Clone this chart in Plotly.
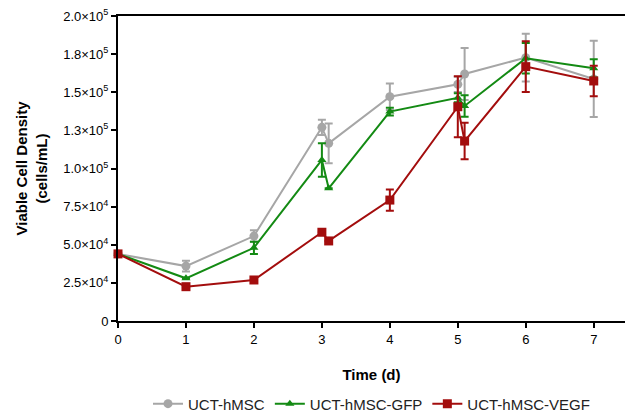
import plotly.graph_objects as go

days = [0, 1, 2, 3, 3.1, 4, 5, 5.1, 6, 7]

hmsc = [44000, 36000, 55700, 127000, 116500, 147100, 155200, 162000, 172700, 158700]
hmsc_err = [0, 3500, 3800, 5000, 13000, 8700, 5000, 17000, 15600, 25000]

gfp = [44000, 28000, 48000, 105600, 87000, 137300, 146400, 141000, 172300, 165700]
gfp_err = [0, 0, 4000, 11000, 0, 2500, 3000, 7000, 10000, 6000]

vegf = [44000, 22500, 26900, 58200, 52500, 79300, 140500, 118000, 166800, 157400]
vegf_err = [0, 0, 0, 0, 0, 7000, 20000, 12000, 16700, 10000]

ytick_vals = [0, 25000, 50000, 75000, 100000, 125000, 150000, 175000, 200000]
ytick_text = ["0", "2.5×10<sup>4</sup>", "5.0×10<sup>4</sup>", "7.5×10<sup>4</sup>",
              "1.0×10<sup>5</sup>", "1.3×10<sup>5</sup>", "1.5×10<sup>5</sup>",
              "1.8×10<sup>5</sup>", "2.0×10<sup>5</sup>"]

series = [
    ("UCT-hMSC", hmsc, hmsc_err, "#a6a6a6", "circle", 9),
    ("UCT-hMSC-GFP", gfp, gfp_err, "#138a13", "triangle-up", 8),
    ("UCT-hMSC-VEGF", vegf, vegf_err, "#a30d0d", "square", 9),
]

fig = go.Figure()
for name, vals, err, color, sym, size in series:
    fig.add_trace(go.Scatter(
        x=days, y=vals, name=name, mode="lines+markers",
        line=dict(color=color, width=2),
        marker=dict(color=color, symbol=sym, size=size),
        error_y=dict(type="data", array=err, visible=True, color=color,
                     thickness=2, width=4),
        cliponaxis=False,
    ))

fig.update_layout(
    width=625, height=413,
    margin=dict(l=118, r=0, t=16, b=92, autoexpand=False),
    paper_bgcolor="white", plot_bgcolor="white",
    font=dict(family="Arial, Liberation Sans, sans-serif", color="black"),
    showlegend=True,
    legend=dict(orientation="h", x=0.5, xanchor="center",
                yref="container", y=0.022, yanchor="middle",
                font=dict(size=15, color="#222"),
                itemwidth=30, tracegroupgap=0),
    xaxis=dict(range=[0, 7.46], tickvals=[0, 1, 2, 3, 4, 5, 6, 7],
               ticks="outside", ticklen=5, tickwidth=2, tickcolor="black",
               showline=True, linecolor="black", linewidth=2, mirror=True,
               showgrid=False, zeroline=False,
               tickfont=dict(size=13),
               title=dict(text="<b>Time (d)</b>", font=dict(size=15), standoff=24)),
    yaxis=dict(range=[0, 200000], tickvals=ytick_vals, ticktext=ytick_text,
               ticks="outside", ticklen=5, tickwidth=2, tickcolor="black",
               showline=True, linecolor="black", linewidth=2,
               showgrid=False, zeroline=False,
               tickfont=dict(size=13),
               title=dict(text="<b>Viable Cell Density<br>(cells/mL)</b>",
                          font=dict(size=15), standoff=12)),
)
fig.update_xaxes(tickprefix="<b>", ticksuffix="</b>")
fig.update_yaxes(tickprefix="<b>", ticksuffix="</b>")

fig.write_html("out.html")
